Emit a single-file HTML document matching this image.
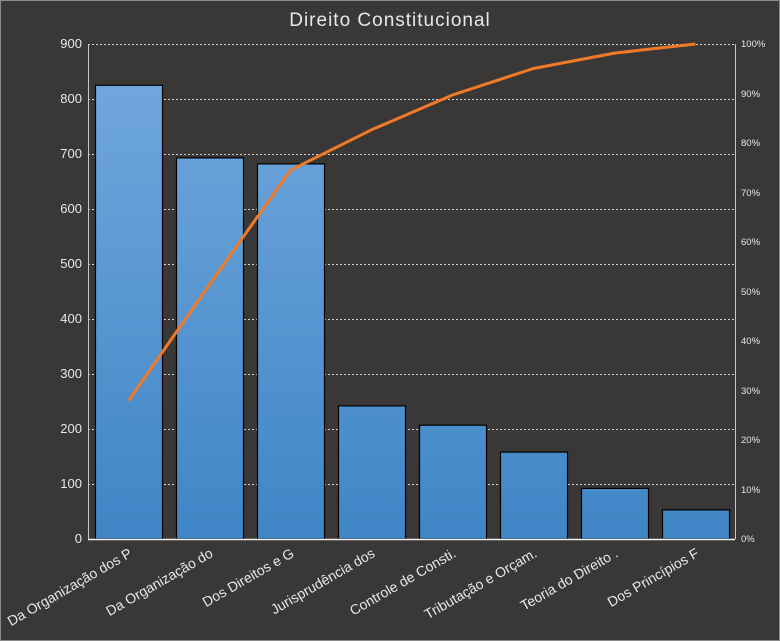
<!DOCTYPE html>
<html><head><meta charset="utf-8"><style>
html,body{margin:0;padding:0;background:#3a3836;}
svg{display:block;}
text{font-family:"Liberation Sans","DejaVu Sans",sans-serif;fill:#e8e8e8;}
</style></head><body>
<svg width="780" height="641" viewBox="0 0 780 641" xmlns="http://www.w3.org/2000/svg">
<defs>
<linearGradient id="g" x1="0" y1="0" x2="0" y2="1" gradientUnits="userSpaceOnUse" x1v="0">
</linearGradient>
<linearGradient id="bg" gradientUnits="userSpaceOnUse" x1="0" y1="44" x2="0" y2="539">
<stop offset="0" stop-color="#74a9df"/><stop offset="1" stop-color="#3f86c6"/>
</linearGradient>
</defs>
<rect x="0" y="0" width="780" height="641" fill="#3a3836"/>
<rect x="0.5" y="0.5" width="779" height="640" fill="none" stroke="#8a8a8a" stroke-width="1"/>
<text x="390" y="26" font-size="19" text-anchor="middle" letter-spacing="1">Direito Constitucional</text>
<g stroke="#d0d0d0" stroke-width="1" stroke-dasharray="2,2">
<line x1="88" x2="735" y1="44.5" y2="44.5"/>
<line x1="88" x2="735" y1="99.5" y2="99.5"/>
<line x1="88" x2="735" y1="154.5" y2="154.5"/>
<line x1="88" x2="735" y1="209.5" y2="209.5"/>
<line x1="88" x2="735" y1="264.5" y2="264.5"/>
<line x1="88" x2="735" y1="319.5" y2="319.5"/>
<line x1="88" x2="735" y1="374.5" y2="374.5"/>
<line x1="88" x2="735" y1="429.5" y2="429.5"/>
<line x1="88" x2="735" y1="484.5" y2="484.5"/>
</g>
<line x1="88.5" y1="44" x2="88.5" y2="539" stroke="#c8c8c8"/>
<line x1="735.5" y1="44" x2="735.5" y2="539" stroke="#c8c8c8"/>
<g fill="url(#bg)" stroke="#000" stroke-width="1.2">
<rect x="95.5" y="85.3" width="67" height="453.7"/>
<rect x="176.5" y="157.9" width="67" height="381.1"/>
<rect x="257.5" y="163.9" width="67" height="375.1"/>
<rect x="338.5" y="405.9" width="67" height="133.1"/>
<rect x="419.5" y="425.2" width="67" height="113.8"/>
<rect x="500.5" y="452.1" width="67" height="86.9"/>
<rect x="581.5" y="488.4" width="67" height="50.6"/>
<rect x="662.5" y="509.9" width="67" height="29.1"/>
</g>
<line x1="88" y1="539.5" x2="735" y2="539.5" stroke="#f0f0f0" stroke-width="1.5"/>
<polyline fill="none" stroke="#f07a28" stroke-width="3" stroke-linejoin="round" points="128.5,400.7 209.5,284.5 290.5,170.2 371.5,129.8 452.5,95.0 533.5,68.5 614.5,53.1 695.5,44"/>
<g font-size="13" text-anchor="end">
<text x="82" y="48">900</text><text x="82" y="103">800</text><text x="82" y="158">700</text>
<text x="82" y="213">600</text><text x="82" y="268">500</text><text x="82" y="323">400</text>
<text x="82" y="378">300</text><text x="82" y="433">200</text><text x="82" y="488">100</text>
<text x="82" y="543">0</text>
</g>
<g font-size="9.5" text-anchor="start">
<text x="741" y="47">100%</text><text x="741" y="97">90%</text><text x="741" y="146">80%</text>
<text x="741" y="196">70%</text><text x="741" y="245">60%</text><text x="741" y="295">50%</text>
<text x="741" y="344">40%</text><text x="741" y="394">30%</text><text x="741" y="443">20%</text>
<text x="741" y="493">10%</text><text x="741" y="542">0%</text>
</g>
<g font-size="14" text-anchor="end">
<text transform="translate(133,556) rotate(-30)">Da Organização dos P</text>
<text transform="translate(214,556) rotate(-30)">Da Organização do</text>
<text transform="translate(295,556) rotate(-30)">Dos Direitos e G</text>
<text transform="translate(376,556) rotate(-30)">Jurisprudência  dos</text>
<text transform="translate(457,556) rotate(-30)">Controle de Consti.</text>
<text transform="translate(538,556) rotate(-30)">Tributação e Orçam.</text>
<text transform="translate(619,556) rotate(-30)">Teoria do Direito .</text>
<text transform="translate(700,556) rotate(-30)">Dos Princípios F</text>
</g>
</svg>
</body></html>
